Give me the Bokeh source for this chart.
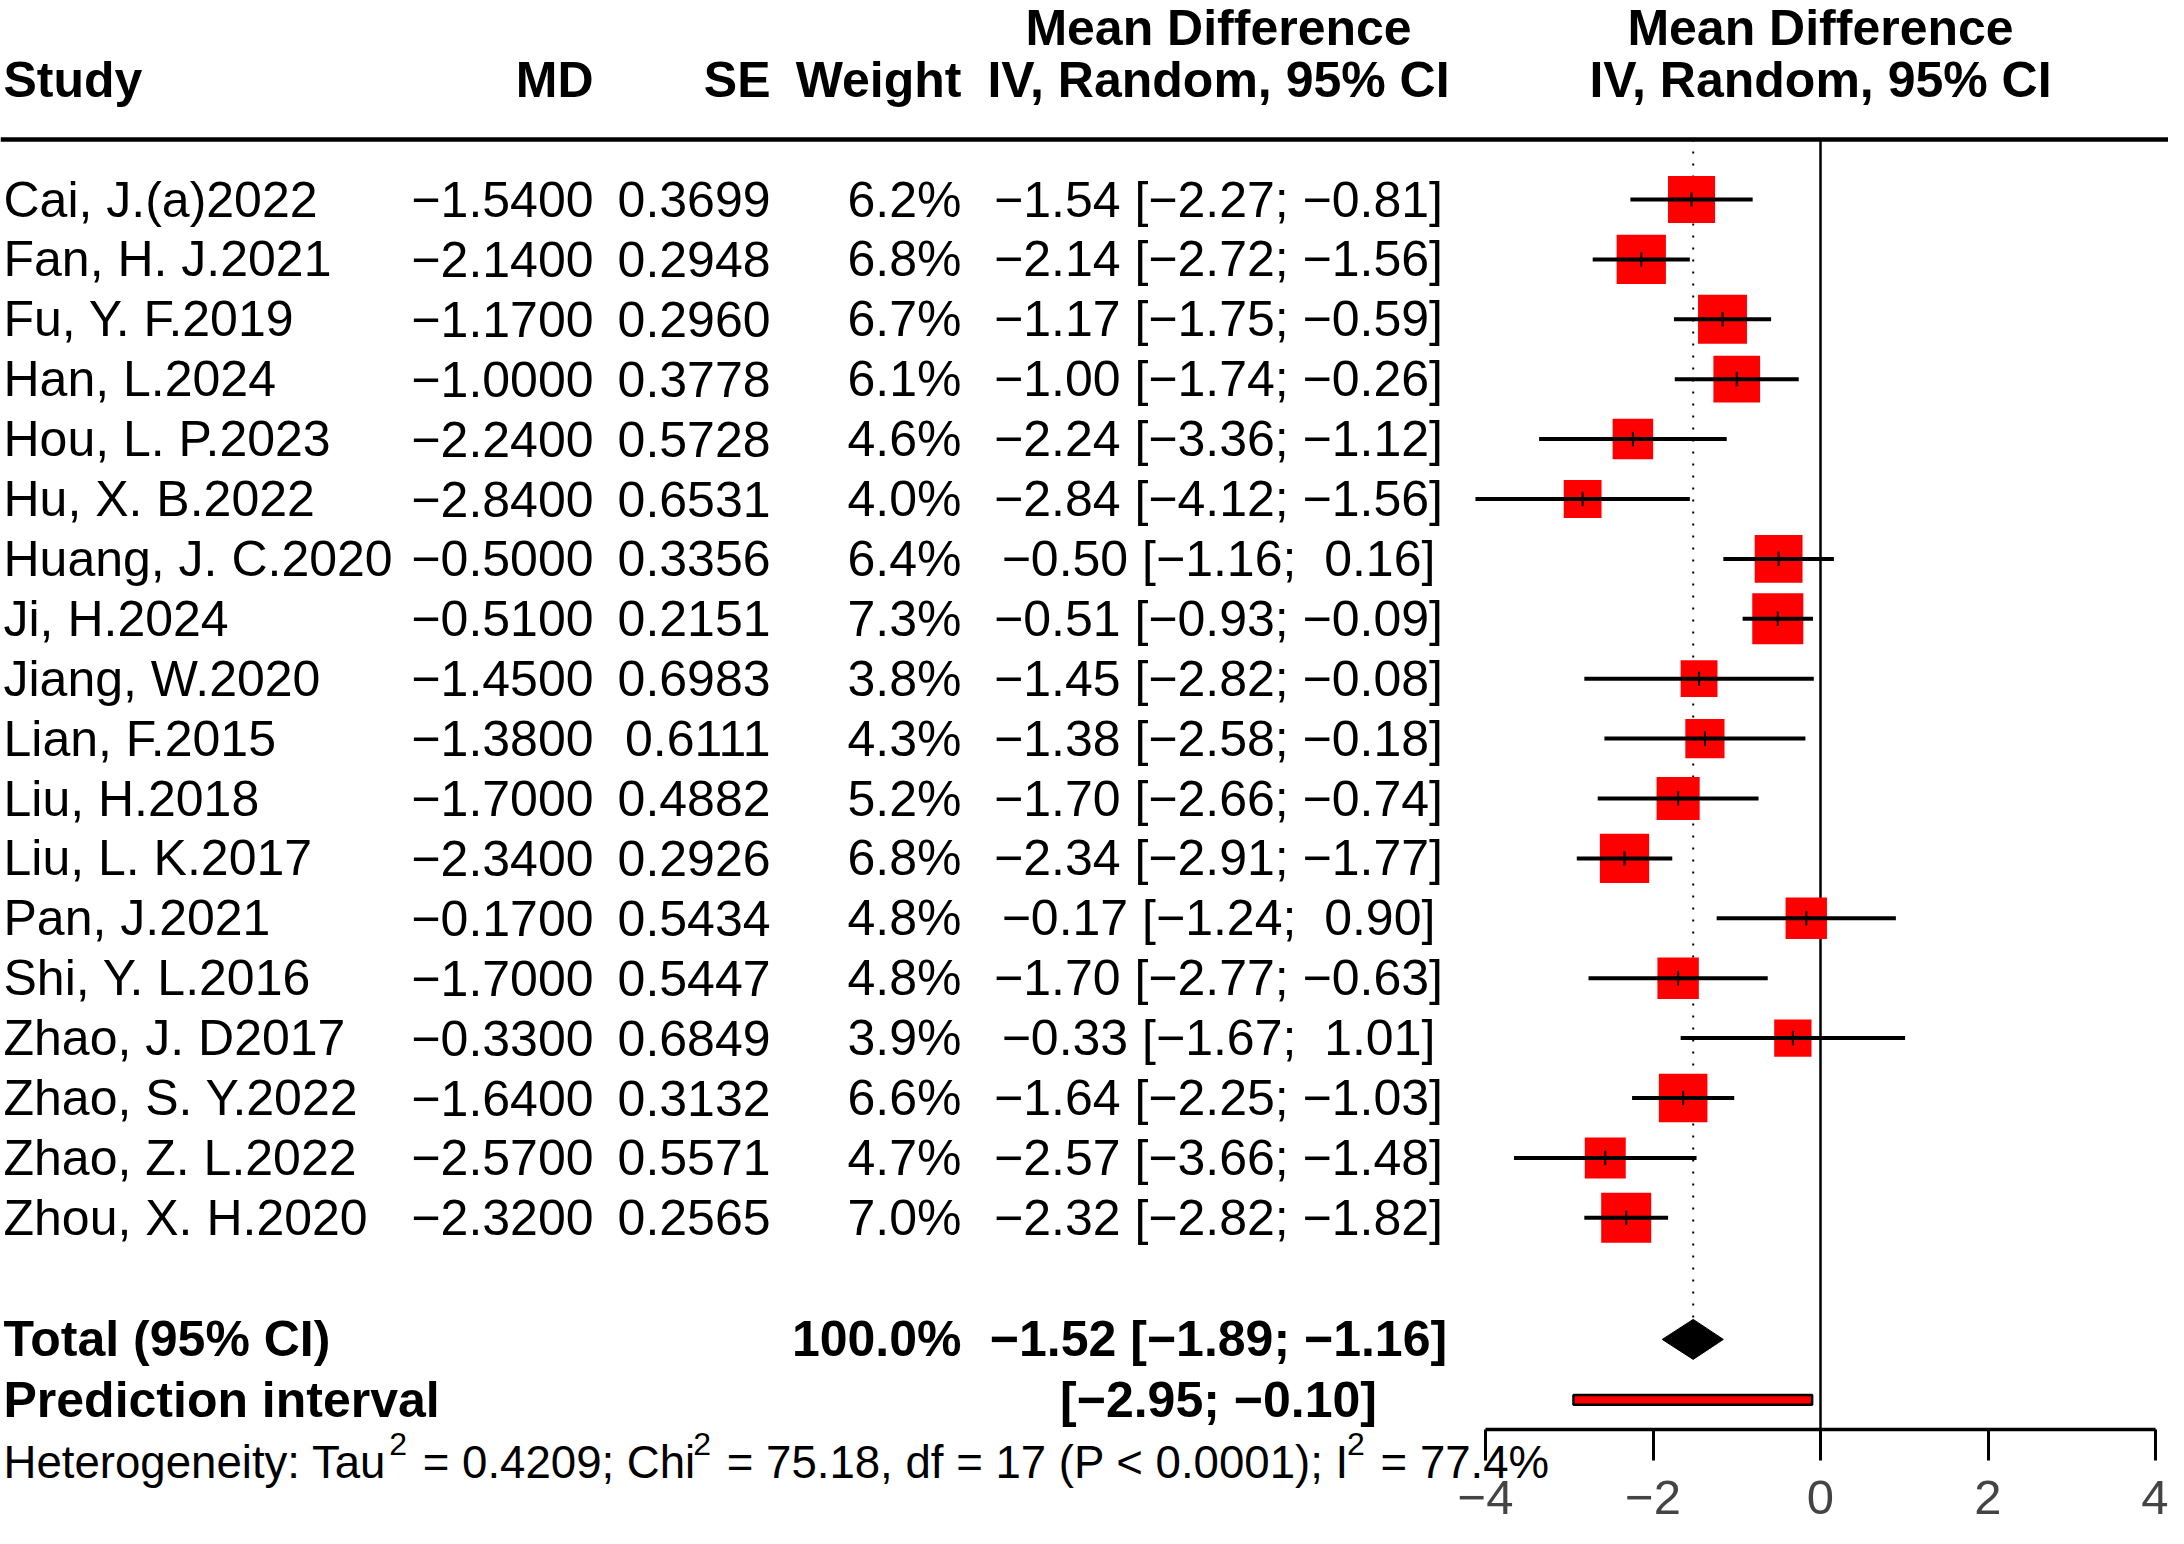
import numpy as np
from bokeh.plotting import figure
from bokeh.models import Range1d, LinearAxis, FixedTicker, ColumnDataSource
from bokeh.core.properties import value
from bokeh.embed import file_html
from bokeh.resources import INLINE

# ---------------- data ----------------
studies = ["Cai, J.(a)2022", "Fan, H. J.2021", "Fu, Y. F.2019", "Han, L.2024",
           "Hou, L. P.2023", "Hu, X. B.2022", "Huang, J. C.2020", "Ji, H.2024",
           "Jiang, W.2020", "Lian, F.2015", "Liu, H.2018", "Liu, L. K.2017",
           "Pan, J.2021", "Shi, Y. L.2016", "Zhao, J. D2017", "Zhao, S. Y.2022",
           "Zhao, Z. L.2022", "Zhou, X. H.2020"]
md = [-1.54, -2.14, -1.17, -1.00, -2.24, -2.84, -0.50, -0.51, -1.45,
      -1.38, -1.70, -2.34, -0.17, -1.70, -0.33, -1.64, -2.57, -2.32]
se = [0.3699, 0.2948, 0.2960, 0.3778, 0.5728, 0.6531, 0.3356, 0.2151, 0.6983,
      0.6111, 0.4882, 0.2926, 0.5434, 0.5447, 0.6849, 0.3132, 0.5571, 0.2565]
weight = [6.2, 6.8, 6.7, 6.1, 4.6, 4.0, 6.4, 7.3, 3.8,
          4.3, 5.2, 6.8, 4.8, 4.8, 3.9, 6.6, 4.7, 7.0]
ci_lower = [-2.27, -2.72, -1.75, -1.74, -3.36, -4.12, -1.16, -0.93, -2.82,
            -2.58, -2.66, -2.91, -1.24, -2.77, -1.67, -2.25, -3.66, -2.82]
ci_upper = [-0.81, -1.56, -0.59, -0.26, -1.12, -1.56, 0.16, -0.09, -0.08,
            -0.18, -0.74, -1.77, 0.90, -0.63, 1.01, -1.03, -1.48, -1.82]

total_md = -1.52
total_lower = -1.89
total_upper = -1.16
total_weight = 100.0
pi_lower = -2.95
pi_upper = -0.10

tau2 = 0.4209
chi2 = 75.18
het_df = 17
het_p = "P < 0.0001"
i2 = 77.4

x_ticks = [-4, -2, 0, 2, 4]
col_headers = ["Study", "MD", "SE", "Weight"]
effect_header = ["Mean Difference", "IV, Random, 95% CI"]

# ---------------- formatting helpers ----------------
MINUS = "\u2212"


def fnum(v, d):
    s = f"{abs(v):.{d}f}"
    return (MINUS + s) if v < 0 else s


def fbound(v):
    s = f"{abs(v):.2f}"
    return (MINUS + s) if v < 0 else ("\u00a0" + s)


def fci(est, lo, hi):
    return f"{fnum(est, 2)} [{fbound(lo)}; {fbound(hi)}]"


# Arial / Liberation Sans advance widths (per 1000 em) for the heterogeneity line
ADV = {" ": 278, "%": 889, "(": 333, ")": 333, ",": 278, ".": 278, ":": 278, ";": 278,
       "<": 584, "=": 584, "C": 722, "H": 722, "I": 278, "P": 667, "T": 611, "a": 556,
       "d": 556, "e": 556, "f": 278, "g": 556, "h": 556, "i": 222, "n": 556, "o": 556,
       "r": 333, "t": 278, "u": 556, "y": 500}


def text_width(s, size):
    return sum(ADV.get(c, 556) for c in s) / 1000.0 * size


# ---------------- layout (figure pixels -> data) ----------------
W, H = 2168, 1528
X_M4 = 1485.0           # pixel x of -4
X_P4 = 2155.0           # pixel x of +4
U = (X_P4 - X_M4) / 8.0
ROW0 = 199.0            # pixel y of first row
ROWH = 59.9             # px per row


def dx(px):
    return -4 + (px - X_M4) / U


def ry(py):
    return (py - ROW0) / ROWH


x_start, x_end = dx(0), dx(W)
y_top, y_bot = ry(0), ry(H)

COL_STUDY = dx(3)
COL_MD = dx(593)
COL_SE = dx(770)
COL_WT = dx(961)
COL_CI = dx(1218)

FONT = value("Liberation Sans")
FS = value("50px")

p = figure(width=W, height=H, x_range=Range1d(x_start, x_end),
           y_range=Range1d(y_bot, y_top), x_axis_location=None,
           y_axis_location=None, toolbar_location=None, output_backend="svg",
           min_border_left=0, min_border_right=0, min_border_top=0,
           min_border_bottom=0)
p.grid.visible = False
p.outline_line_color = None
p.background_fill_color = "white"
p.border_fill_color = "white"

rows = np.arange(len(studies))
src = ColumnDataSource(dict(
    y=rows,
    study=studies,
    md=md,
    lo=ci_lower,
    hi=ci_upper,
    md_txt=[fnum(v, 4) for v in md],
    se_txt=[f"{v:.4f}" for v in se],
    wt_txt=[f"{w:.1f}%" for w in weight],
    ci_txt=[fci(m, l, h) for m, l, h in zip(md, ci_lower, ci_upper)],
    sq=[18.9 * np.sqrt(w) for w in weight],
    t0=[r - 0.12 for r in rows],
    t1=[r + 0.12 for r in rows],
))

# header
H1, H2, RULE = -2.86, -2.0, -1.0
p.text(x=[COL_STUDY], y=[H2], text=[col_headers[0]], text_font=FONT, text_font_size=FS,
       text_font_style="bold", text_align="left", text_baseline="middle")
for cx, t in [(COL_MD, col_headers[1]), (COL_SE, col_headers[2]), (COL_WT, col_headers[3])]:
    p.text(x=[cx], y=[H2], text=[t], text_font=FONT, text_font_size=FS,
           text_font_style="bold", text_align="right", text_baseline="middle")
for cx in (COL_CI, 0.0):
    p.text(x=[cx, cx], y=[H1, H2], text=effect_header, text_font=FONT, text_font_size=FS,
           text_font_style="bold", text_align="center", text_baseline="middle")

p.segment(x0=[x_start], x1=[x_end], y0=[RULE], y1=[RULE], line_color="black", line_width=4.5)

# study rows text
p.text(x=COL_STUDY, y="y", text="study", source=src, text_font=FONT, text_font_size=FS,
       text_align="left", text_baseline="middle")
p.text(x=COL_MD, y="y", text="md_txt", source=src, text_font=FONT, text_font_size=FS,
       text_align="right", text_baseline="middle")
p.text(x=COL_SE, y="y", text="se_txt", source=src, text_font=FONT, text_font_size=FS,
       text_align="right", text_baseline="middle")
p.text(x=COL_WT, y="y", text="wt_txt", source=src, text_font=FONT, text_font_size=FS,
       text_align="right", text_baseline="middle")
p.text(x=COL_CI, y="y", text="ci_txt", source=src, text_font=FONT, text_font_size=FS,
       text_align="center", text_baseline="middle")

# reference lines
AXIS_Y = ry(1429)
TOT_Y = 19.03
PI_Y = 20.04
DIA_H = 0.334
p.segment(x0=[0], x1=[0], y0=[RULE], y1=[AXIS_Y], line_color="black", line_width=2.5)
p.segment(x0=[total_md], x1=[total_md], y0=[RULE], y1=[TOT_Y - DIA_H],
          line_color="black", line_width=2, line_dash="2 10")

# squares, CI lines and estimate ticks
p.rect(x="md", y="y", width="sq", height="sq", width_units="screen", height_units="screen",
       source=src, fill_color="#ff0000", line_color=None)
p.segment(x0="lo", x1="hi", y0="y", y1="y", source=src, line_color="black", line_width=4)
p.segment(x0="md", x1="md", y0="t0", y1="t1", source=src, line_color="black", line_width=2)

# total
p.text(x=[COL_STUDY], y=[TOT_Y], text=["Total (95% CI)"], text_font=FONT, text_font_size=FS,
       text_font_style="bold", text_align="left", text_baseline="middle")
p.text(x=[COL_WT], y=[TOT_Y], text=[f"{total_weight:.1f}%"], text_font=FONT, text_font_size=FS,
       text_font_style="bold", text_align="right", text_baseline="middle")
p.text(x=[COL_CI], y=[TOT_Y], text=[fci(total_md, total_lower, total_upper)], text_font=FONT,
       text_font_size=FS, text_font_style="bold", text_align="center", text_baseline="middle")
p.patch(x=[total_lower, total_md, total_upper, total_md],
        y=[TOT_Y, TOT_Y - DIA_H, TOT_Y, TOT_Y + DIA_H], fill_color="black", line_color="black",
        line_width=1)

# prediction interval
p.text(x=[COL_STUDY], y=[PI_Y], text=["Prediction interval"], text_font=FONT, text_font_size=FS,
       text_font_style="bold", text_align="left", text_baseline="middle")
p.text(x=[COL_CI], y=[PI_Y], text=[f"[{fbound(pi_lower)}; {fbound(pi_upper)}]"], text_font=FONT,
       text_font_size=FS, text_font_style="bold", text_align="center", text_baseline="middle")
p.quad(left=[pi_lower], right=[pi_upper], top=[PI_Y - 0.083], bottom=[PI_Y + 0.083],
       fill_color="#ff0000", line_color="black", line_width=2.5)

# heterogeneity line with superscripts
HS, SS = 45.6, 32.0
HET_MID = 1462.0
SUP_MID = 1443.0
het_parts = [("Heterogeneity: Tau", False), ("2", True),
             (f" = {tau2:.4f}; Chi", False), ("2", True),
             (f" = {chi2:.2f}, df = {het_df} ({het_p}); I", False), ("2", True),
             (f" = {i2:.1f}%", False)]
cur = 3.0
main_x, main_t, sup_x, sup_t = [], [], [], []
for t, sup in het_parts:
    size = SS if sup else HS
    lead = len(t) - len(t.lstrip(" "))
    start = cur + text_width(" " * lead, size)
    if sup:
        sup_x.append(dx(start - 2))
        sup_t.append(t.strip())
    else:
        main_x.append(dx(start))
        main_t.append(t.strip())
    cur += text_width(t, size) + (1 if sup else 0)
p.text(x=main_x, y=[ry(HET_MID)] * len(main_x), text=main_t, text_font=FONT,
       text_font_size=value(f"{HS}px"), text_align="left", text_baseline="middle")
p.text(x=sup_x, y=[ry(SUP_MID)] * len(sup_x), text=sup_t, text_font=FONT,
       text_font_size=value(f"{SS}px"), text_align="left", text_baseline="middle")

# x axis
ax = LinearAxis(ticker=FixedTicker(ticks=x_ticks), bounds=(-4, 4), fixed_location=AXIS_Y)
ax.axis_line_width = 3.5
ax.major_tick_line_width = 3
ax.major_tick_out = 31
ax.major_tick_in = 0
ax.minor_tick_line_color = None
ax.major_label_text_font = "Liberation Sans"
ax.major_label_text_font_size = "49px"
ax.major_label_standoff = 20
ax.major_label_overrides = {-4: MINUS + "4", -2: MINUS + "2"}
p.add_layout(ax, "below")

open("out.html", "w").write(file_html(p, INLINE))
